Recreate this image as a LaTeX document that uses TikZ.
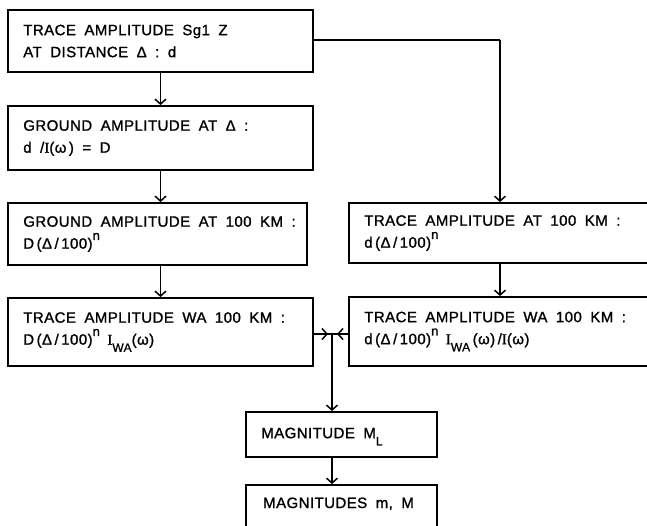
\documentclass[tikz,border=0pt]{standalone}
\usepackage{fontspec}
\setmainfont{Liberation Sans}[LetterSpace=3,WordSpace=2.4,FakeBold=1.2]
\newfontfamily\serifI{Liberation Serif}[FakeBold=1.2]
\usetikzlibrary{arrows.meta}
\newcommand{\myup}[1]{\raisebox{1.1ex}{\fontsize{13}{13}\selectfont #1}}
\newcommand{\mydn}[1]{\raisebox{-0.9ex}{\fontsize{12}{12}\selectfont #1}}
\newcommand{\Ib}{{\serifI I}}
\newcommand{\ws}{\spaceskip=8.5pt plus 2pt minus 1pt\xspaceskip=\spaceskip\relax}
\begin{document}
\begin{tikzpicture}[x=1pt,y=-1pt,
  font=\fontsize{15}{22}\selectfont,
  box/.style={draw, line width=1.8pt, inner sep=0pt},
  txt/.style={anchor=west, inner sep=0pt, align=left, text width=330pt, xshift=16pt},
  conn/.style={line width=1.5pt},
  arr/.style={conn, -{Straight Barb[length=5pt,width=11pt,line width=1.5pt]}}]
\useasboundingbox (0,0) rectangle (647,525);
\clip (0,0) rectangle (647,525);
\node[box, minimum width=305, minimum height=62] (b1) at (160.5,41) {};
\node[box, minimum width=305, minimum height=64] (b2) at (160.5,138) {};
\node[box, minimum width=299, minimum height=62] (b3) at (157.5,234) {};
\node[box, minimum width=305, minimum height=68] (b4) at (160.5,332) {};
\node[box, minimum width=331, minimum height=60] (b5) at (514.5,233) {};
\node[box, minimum width=331, minimum height=69] (b6) at (514.5,331.5) {};
\node[box, minimum width=191, minimum height=45] (b7) at (341.5,434.5) {};
\node[box, minimum width=191, minimum height=60] (b8) at (341.5,515) {};
\node[txt] (t1) at (b1.west) {\ws TRACE AMPLITUDE Sg1 Z\\AT DISTANCE Δ : d};
\node[txt] (t2) at (b2.west) {\ws GROUND AMPLITUDE AT Δ :\\d /\Ib(ω\,) = D};
\node[txt] (t3) at (b3.west) {\ws GROUND AMPLITUDE AT 100 KM :\\D\,(Δ\,/\,100)\myup{n}};
\node[txt] (t4) at (b4.west) {\ws TRACE AMPLITUDE WA 100 KM :\\D\,(Δ\,/\,100)\myup{n}\enspace\Ib\mydn{WA}(ω)};
\node[txt] (t5) at (b5.west) {\ws TRACE AMPLITUDE AT 100 KM :\\d\,(Δ\,/\,100)\myup{n}};
\node[txt] (t6) at (b6.west) {\ws TRACE AMPLITUDE WA 100 KM :\\d\,(Δ\,/\,100)\myup{n}\enspace\Ib\mydn{WA}\,(ω)\,/\Ib(ω)};
\node[txt, yshift=-2pt] (t7) at (b7.west) {\ws MAGNITUDE M\mydn{L}};
\node[anchor=base west, inner sep=0pt] (t8) at (263,508) {\ws MAGNITUDES m, M};
\draw[arr] (b1.south) -- (b2.north);
\draw[arr] (b2.south) -- (b2.south |- b3.north);
\draw[arr] (b2.south |- b3.south) -- (b4.north);
\coordinate (c1) at (500,40);
\draw[conn] (b1.east |- c1) -- (c1);
\draw[arr] (c1) -- (c1 |- b5.north);
\draw[arr] (c1 |- b5.south) -- (c1 |- b6.north);
\coordinate (j) at (332,334);
\coordinate (jl) at (328,334);
\coordinate (jr) at (337,334);
\draw[conn] (b4.east |- j) -- (b6.west |- j);
\draw[arr] (b4.east |- j) -- (jl);
\draw[arr] (b6.west |- j) -- (jr);
\draw[arr] (j) -- (b7.north -| j);
\draw[arr] (b7.south -| j) -- (b8.north -| j);
\end{tikzpicture}
\end{document}
